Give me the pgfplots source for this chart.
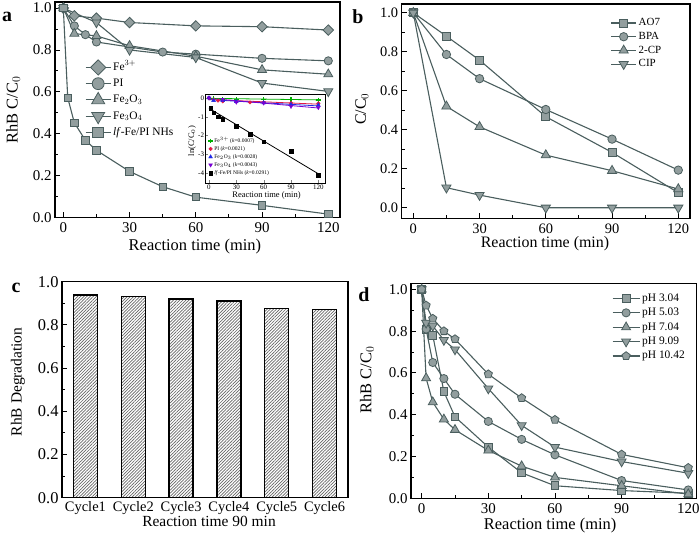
\documentclass[border=0pt]{standalone}
\usepackage{fontspec}
\setmainfont{Liberation Serif}
\usepackage{pgfplots}
\pgfplotsset{compat=1.18}
\usetikzlibrary{patterns.meta}
\definecolor{ln}{RGB}{74,94,94}
\definecolor{mf}{RGB}{146,158,158}
\definecolor{gG}{RGB}{0,175,0}
\definecolor{gR}{RGB}{225,25,70}
\definecolor{gB}{RGB}{30,40,230}
\definecolor{gP}{RGB}{120,0,210}

\pgfplotsset{
  panel/.style={
    scale only axis, clip=false,
    axis line style={line width=1.1bp},
    tick align=inside, xtick pos=left, ytick pos=left,
    major tick length=5bp, minor tick length=3bp,
    every tick/.style={black, line width=0.9bp},
    /pgf/number format/assume math mode=true,
    yticklabel style={/pgf/number format/fixed, /pgf/number format/fixed zerofill, /pgf/number format/precision=1},
  },
  ser/.style={color=ln, line width=1.1bp},
  mk/.style={mark options={fill=mf, draw=ln, line width=0.8bp, solid, #1}},
  mk/.default={},
}

\begin{document}
\begin{tikzpicture}
\useasboundingbox (0,0) rectangle (700bp,539bp);

% ---------------- panel a ----------------
\begin{axis}[panel, at={(55bp,321.5bp)}, anchor=south west, width=285bp, height=215.5bp,
  xmin=-3.76, xmax=125.3, ymin=0, ymax=1.029,
  xtick={0,30,60,90,120}, minor x tick num=1,
  ytick={0,0.2,0.4,0.6,0.8,1.0}, minor y tick num=1,
  tick label style={font=\fontsize{15}{16}\selectfont},
  xticklabel style={yshift=-2bp},
  label style={font=\fontsize{16.5}{17}\selectfont},
  xlabel={Reaction time (min)}, ylabel={RhB C/C$_0$},
  xlabel style={at={(axis description cs:0.491,-0.133)}, anchor=center},
  ylabel style={at={(axis description cs:-0.147,0.499)}, anchor=center},
  legend cell align=left,
  legend image code/.code={\draw[mark repeat=2,mark phase=2,#1, every mark/.append style={scale=1.45}] plot coordinates {(0bp,0bp)(12.5bp,0bp)(25bp,0bp)};},
  legend style={draw=none, fill=none, at={(axis description cs:0.105,0.735)}, anchor=north west,
    inner sep=0bp, row sep=0bp, font=\fontsize{11.5}{12}\selectfont,
    nodes={text height=9bp, text depth=3.25bp, inner ysep=2bp, inner xsep=2bp},
    /tikz/column 2/.style={column sep=3bp}},
]
\addplot[ser, mark=square*, mk={rotate=45}, mark size=3.7bp] coordinates {
(0,1.0)(5,0.963)(15,0.952)(30,0.931)(60,0.915)(90,0.911)(120,0.895)};
\addlegendentry{Fe$^{3+}$}
\addplot[ser, mark=*, mk, mark size=4.1bp] coordinates {
(0,1.0)(5,0.915)(10,0.873)(15,0.838)(45,0.79)(60,0.78)(90,0.76)(120,0.748)};
\addlegendentry{PI}
\addplot[ser, mark=triangle*, mk, mark size=5.2bp] coordinates {
(0,1.0)(5,0.878)(15,0.867)(30,0.82)(60,0.77)(90,0.705)(120,0.684)};
\addlegendentry{Fe$_2$O$_3$}
\addplot[ser, mark=triangle*, mk={rotate=180}, mark size=5.2bp] coordinates {
(0,1.0)(15,0.931)(30,0.80)(60,0.764)(90,0.642)(120,0.602)};
\addlegendentry{Fe$_3$O$_4$}
\addplot[ser, mark=square*, mk, mark size=3.7bp] coordinates {
(0,1.0)(2,0.572)(5,0.452)(10,0.369)(15,0.321)(30,0.22)(45,0.147)(60,0.097)(90,0.058)(120,0.016)};
\addlegendentry{\textit{lf}-Fe/PI NHs}
\end{axis}

% ---------------- inset ----------------
\begin{axis}[scale only axis, at={(205.7bp,356bp)}, anchor=south west, width=119.3bp, height=89bp,
  axis background/.style={fill=white}, axis line style={line width=0.9bp},
  xmin=-3.6, xmax=127.3, ymin=-4.53, ymax=0.21,
  xtick={0,30,60,90,120}, ytick={-4,-3,-2,-1,0},
  tick align=inside, xtick pos=left, ytick pos=left, major tick length=2.5bp,
  /pgf/number format/assume math mode=true,
  tick label style={font=\fontsize{7}{7}\selectfont, inner sep=1.5bp},
  label style={font=\fontsize{8.5}{9}\selectfont},
  xlabel={Reaction time (min)}, ylabel={ln(C/C$_0$)},
  xlabel style={at={(axis description cs:0.51,-0.14)}, anchor=center},
  ylabel style={at={(axis description cs:-0.115,0.47)}, anchor=center},
  legend cell align=left,
  legend image code/.code={\draw[#1] plot coordinates {(2bp,0bp)};},
  legend style={draw=none, fill=none, at={(axis description cs:0.02,0.52)}, anchor=north west,
    inner sep=0bp, row sep=0bp, font=\fontsize{5.5}{6}\selectfont,
    nodes={text height=4.5bp, text depth=1.5bp, inner ysep=1bp, inner xsep=1.5bp},
    /tikz/column 2/.style={column sep=2bp}},
]
\addplot[only marks, mark=+, color=gG, mark size=2.3bp, line width=1.4bp] coordinates {
(0,0)(5,-0.038)(15,-0.049)(30,-0.07)(60,-0.089)(90,-0.093)(120,-0.11)};
\addlegendentry{Fe$^{3+}$ (\textit{k}=0.0007)}
\addplot[only marks, mark=*, color=gR, mark size=1.8bp] coordinates {
(0,0)(5,-0.089)(10,-0.139)(15,-0.18)(45,-0.236)(60,-0.248)(90,-0.274)(120,-0.29)};
\addlegendentry{PI (\textit{k}=0.0021)}
\addplot[only marks, mark=triangle*, color=gB, mark size=2.2bp] coordinates {
(0,0)(5,-0.134)(15,-0.143)(30,-0.198)(60,-0.261)(90,-0.35)(120,-0.38)};
\addlegendentry{Fe$_2$O$_3$ (\textit{k}=0.0028)}
\addplot[only marks, mark=triangle*, mark options={rotate=180}, color=gP, mark size=2.2bp] coordinates {
(0,0)(15,-0.073)(30,-0.223)(60,-0.269)(90,-0.446)(120,-0.51)};
\addlegendentry{Fe$_3$O$_4$ (\textit{k}=0.0043)}
\addplot[only marks, mark=square*, color=black, mark size=1.8bp] coordinates {
(2,-0.56)(5,-0.79)(10,-1.0)(15,-1.14)(30,-1.51)(45,-1.92)(60,-2.33)(90,-2.85)(120,-4.1)};
\addlegendentry{\textit{lf}-Fe/PI NHs (\textit{k}=0.0291)}
\addplot[gG, line width=0.8bp, forget plot] coordinates {(0,-0.02)(120,-0.104)};
\addplot[gR, line width=0.8bp, forget plot] coordinates {(0,-0.08)(120,-0.332)};
\addplot[gB, line width=0.8bp, forget plot] coordinates {(0,-0.09)(120,-0.426)};
\addplot[gP, line width=0.8bp, forget plot] coordinates {(0,-0.02)(120,-0.536)};
\addplot[black, line width=0.8bp, forget plot] coordinates {(0,-0.55)(120,-4.04)};
\end{axis}

% ---------------- panel b ----------------
\begin{axis}[panel, at={(401.7bp,320.7bp)}, anchor=south west, width=288.3bp, height=214.3bp,
  xmin=-5.25, xmax=125.3, ymin=-0.054, ymax=1.045,
  xtick={0,30,60,90,120}, minor x tick num=1,
  ytick={0,0.2,0.4,0.6,0.8,1.0}, minor y tick num=1,
  tick label style={font=\fontsize{14.5}{15}\selectfont},
  xticklabel style={yshift=-2bp},
  label style={font=\fontsize{16}{17}\selectfont},
  xlabel={Reaction time (min)}, ylabel={C/C$_0$},
  xlabel style={at={(axis description cs:0.497,-0.12)}, anchor=center},
  ylabel style={at={(axis description cs:-0.138,0.51)}, anchor=center},
  legend cell align=left,
  legend image code/.code={\draw[mark repeat=2,mark phase=2,#1] plot coordinates {(0bp,0bp)(12.5bp,0bp)(25bp,0bp)};},
  legend style={draw=none, fill=none, at={(axis description cs:0.724,0.944)}, anchor=north west,
    inner sep=0bp, row sep=0bp, font=\fontsize{11}{12}\selectfont,
    nodes={text height=8bp, text depth=2.7bp, inner ysep=1.5bp, inner xsep=2bp},
    /tikz/column 2/.style={column sep=1.5bp}},
]
\addplot[ser, mark=square*, mk, mark size=4bp] coordinates {
(0,1.0)(15,0.88)(30,0.757)(60,0.467)(90,0.284)(120,0.077)};
\addlegendentry{AO7}
\addplot[ser, mark=*, mk, mark size=4.2bp] coordinates {
(0,1.0)(15,0.786)(30,0.662)(60,0.504)(90,0.352)(120,0.193)};
\addlegendentry{BPA}
\addplot[ser, mark=triangle*, mk, mark size=5.3bp] coordinates {
(0,1.0)(15,0.52)(30,0.415)(60,0.27)(90,0.19)(120,0.096)};
\addlegendentry{2-CP}
\addplot[ser, mark=triangle*, mk={rotate=180}, mark size=5.3bp] coordinates {
(0,1.0)(15,0.103)(30,0.065)(60,0.0)(90,0.0)(120,0.0)};
\addlegendentry{CIP}
\end{axis}

% ---------------- panel c ----------------
\begin{axis}[panel, at={(62bp,41.3bp)}, anchor=south west, width=286bp, height=216bp,
  xmin=0.51, xmax=6.49, ymin=0, ymax=1,
  xtick={1,2,3,4,5,6}, xticklabels={Cycle1,Cycle2,Cycle3,Cycle4,Cycle5,Cycle6},
  x tick style={draw=none},
  ytick={0,0.2,0.4,0.6,0.8,1.0}, minor y tick num=1,
  xticklabel style={font=\fontsize{14.5}{15}\selectfont},
  yticklabel style={font=\fontsize{16.5}{17}\selectfont},
  label style={font=\fontsize{15.5}{16}\selectfont},
  xlabel={Reaction time 90 min}, ylabel={RhB Degradation},
  xlabel style={at={(axis description cs:0.514,-0.112)}, anchor=center},
  ylabel style={at={(axis description cs:-0.154,0.536)}, anchor=center},
]
\addplot[ybar, bar width=24bp, bar shift=0bp, draw=black, line width=1.3bp,
  pattern={Lines[angle=45, distance=2.2bp, line width=0.7bp]}, pattern color=black!60]
  coordinates {(1,0.938)(2,0.931)(3,0.92)(4,0.91)(5,0.877)(6,0.872)};
\end{axis}

% ---------------- panel d ----------------
\begin{axis}[panel, at={(411bp,40.7bp)}, anchor=south west, width=285.7bp, height=215bp,
  xmin=-4.8, xmax=123.8, ymin=0, ymax=1.029,
  xtick={0,30,60,90,120}, minor x tick num=1,
  ytick={0,0.2,0.4,0.6,0.8,1.0}, minor y tick num=1,
  tick label style={font=\fontsize{15}{16}\selectfont},
  xticklabel style={yshift=-2bp},
  label style={font=\fontsize{16.5}{17}\selectfont},
  xlabel={Reaction time (min)}, ylabel={RhB C/C$_0$},
  xlabel style={at={(axis description cs:0.487,-0.126)}, anchor=center},
  ylabel style={at={(axis description cs:-0.154,0.55)}, anchor=center},
  legend cell align=left,
  legend image code/.code={\draw[mark repeat=2,mark phase=2,#1] plot coordinates {(0bp,0bp)(13.5bp,0bp)(27bp,0bp)};},
  legend style={draw=none, fill=none, at={(axis description cs:0.703,0.964)}, anchor=north west,
    inner sep=0bp, row sep=0bp, font=\fontsize{11.5}{12}\selectfont,
    nodes={text height=8.5bp, text depth=2.9bp, inner ysep=1.5bp, inner xsep=2bp},
    /tikz/column 2/.style={column sep=1.5bp}},
]
\addplot[ser, mark=square*, mk, mark size=3.9bp] coordinates {
(0,1.0)(2,0.81)(5,0.78)(10,0.51)(15,0.39)(30,0.245)(45,0.122)(60,0.06)(90,0.037)(120,0.024)};
\addlegendentry{pH 3.04}
\addplot[ser, mark=*, mk, mark size=4.1bp] coordinates {
(0,1.0)(2,0.81)(5,0.65)(10,0.573)(15,0.498)(30,0.368)(45,0.282)(60,0.208)(90,0.085)(120,0.04)};
\addlegendentry{pH 5.03}
\addplot[ser, mark=triangle*, mk, mark size=5.2bp] coordinates {
(0,1.0)(2,0.575)(5,0.46)(10,0.378)(15,0.328)(30,0.229)(45,0.154)(60,0.10)(90,0.06)(120,0.02)};
\addlegendentry{pH 7.04}
\addplot[ser, mark=triangle*, mk={rotate=180}, mark size=5.2bp] coordinates {
(0,1.0)(2,0.84)(5,0.825)(10,0.757)(15,0.712)(30,0.525)(45,0.349)(60,0.245)(90,0.176)(120,0.12)};
\addlegendentry{pH 9.09}
\addplot[ser, mark=pentagon*, mk, mark size=4.3bp] coordinates {
(0,1.0)(2,0.923)(5,0.86)(10,0.80)(15,0.762)(30,0.594)(45,0.48)(60,0.376)(90,0.21)(120,0.146)};
\addlegendentry{pH 10.42}
\end{axis}

% panel letters
\node[font=\bfseries\fontsize{20}{20}\selectfont] at (7bp,522bp) {a};
\node[font=\bfseries\fontsize{20}{20}\selectfont] at (358bp,522bp) {b};
\node[font=\bfseries\fontsize{20}{20}\selectfont] at (16bp,251bp) {c};
\node[font=\bfseries\fontsize{20}{20}\selectfont] at (364bp,244bp) {d};
\end{tikzpicture}
\end{document}
